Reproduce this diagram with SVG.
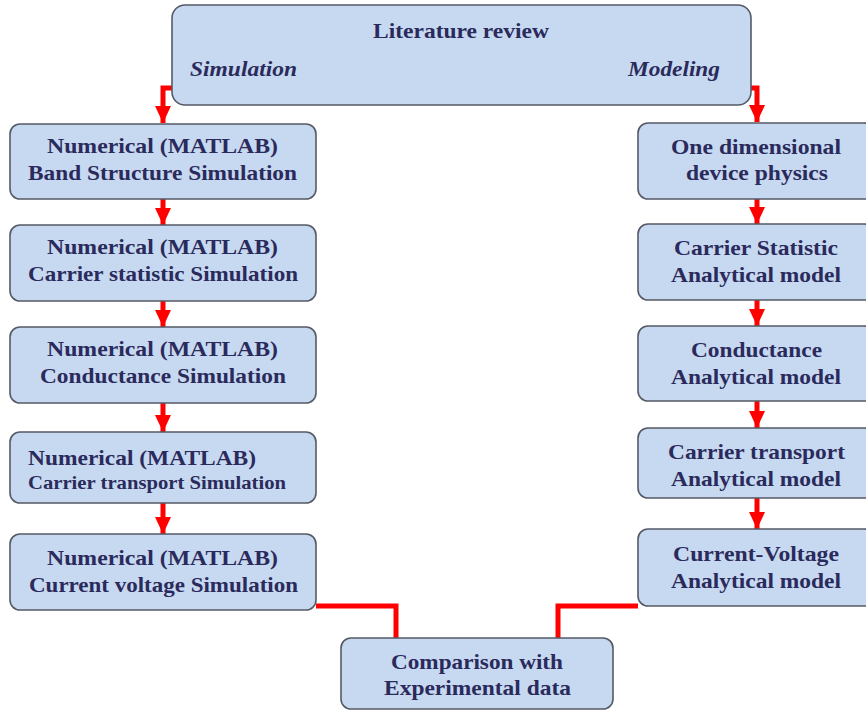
<svg xmlns="http://www.w3.org/2000/svg" width="866" height="711" viewBox="0 0 866 711">
<defs>
<style>
.box{fill:#c6d9f0;stroke:#555a66;stroke-width:1.6}
text{font-family:'Liberation Serif','DejaVu Serif','Times New Roman',serif;font-weight:bold;font-size:21px;fill:#2b2a5c}
.i{font-style:italic}
.c{fill:none;stroke:#ff0000;stroke-width:5}
</style>
<marker id="ah" markerUnits="userSpaceOnUse" markerWidth="18" markerHeight="16" refX="17" refY="8" orient="auto">
<path d="M0,0 L17,8 L0,16 Z" fill="#ff0000"/>
</marker>
</defs>
<rect width="866" height="711" fill="#ffffff"/>
<g id="connectors">
<path class="c" d="M172,88 H163 V123" marker-end="url(#ah)"/>
<path class="c" d="M751,88 H757 V122" marker-end="url(#ah)"/>
<path class="c" d="M163,199 V225" marker-end="url(#ah)"/>
<path class="c" d="M163,301 V327" marker-end="url(#ah)"/>
<path class="c" d="M163,403 V432" marker-end="url(#ah)"/>
<path class="c" d="M163,503 V534" marker-end="url(#ah)"/>
<path class="c" d="M757,199 V224" marker-end="url(#ah)"/>
<path class="c" d="M757,300 V326" marker-end="url(#ah)"/>
<path class="c" d="M757,401 V428" marker-end="url(#ah)"/>
<path class="c" d="M757,498 V529" marker-end="url(#ah)"/>
<path class="c" d="M316,606 H396 V638"/>
<path class="c" d="M638,606 H558 V638"/>
</g>
<g id="literature">
<rect class="box" x="172" y="5" width="579" height="100" rx="13"/>
<text x="373" y="38" textLength="176" lengthAdjust="spacingAndGlyphs">Literature review</text>
<text class="i" x="190" y="76" textLength="107" lengthAdjust="spacingAndGlyphs">Simulation</text>
<text class="i" x="628" y="76" textLength="92" lengthAdjust="spacingAndGlyphs">Modeling</text>
</g>
<g id="sim1">
<rect class="box" x="10" y="124" width="306" height="75" rx="10"/>
<text x="47" y="153" textLength="231" lengthAdjust="spacingAndGlyphs">Numerical (MATLAB)</text>
<text x="28" y="180" textLength="269" lengthAdjust="spacingAndGlyphs">Band Structure Simulation</text>
</g>
<g id="sim2">
<rect class="box" x="10" y="225" width="306" height="76" rx="10"/>
<text x="47" y="254" textLength="231" lengthAdjust="spacingAndGlyphs">Numerical (MATLAB)</text>
<text x="28" y="281" textLength="270" lengthAdjust="spacingAndGlyphs">Carrier statistic Simulation</text>
</g>
<g id="sim3">
<rect class="box" x="10" y="327" width="306" height="76" rx="10"/>
<text x="47" y="356" textLength="231" lengthAdjust="spacingAndGlyphs">Numerical (MATLAB)</text>
<text x="40" y="383" textLength="246" lengthAdjust="spacingAndGlyphs">Conductance Simulation</text>
</g>
<g id="sim4">
<rect class="box" x="10" y="432" width="306" height="71" rx="10"/>
<text x="28" y="465" textLength="228" lengthAdjust="spacingAndGlyphs">Numerical (MATLAB)</text>
<text x="28" y="489" style="font-size:18px" textLength="258" lengthAdjust="spacingAndGlyphs">Carrier transport  Simulation</text>
</g>
<g id="sim5">
<rect class="box" x="10" y="534" width="306" height="76" rx="10"/>
<text x="47" y="565" textLength="231" lengthAdjust="spacingAndGlyphs">Numerical (MATLAB)</text>
<text x="29" y="592" textLength="269" lengthAdjust="spacingAndGlyphs">Current voltage Simulation</text>
</g>
<g id="mod1">
<rect class="box" x="638" y="123" width="236" height="76" rx="10"/>
<text x="671" y="154" textLength="170" lengthAdjust="spacingAndGlyphs">One dimensional</text>
<text x="686" y="180" textLength="142" lengthAdjust="spacingAndGlyphs">device physics</text>
</g>
<g id="mod2">
<rect class="box" x="638" y="224" width="236" height="76" rx="10"/>
<text x="674" y="255" textLength="164" lengthAdjust="spacingAndGlyphs">Carrier Statistic</text>
<text x="671" y="282" textLength="170" lengthAdjust="spacingAndGlyphs">Analytical model</text>
</g>
<g id="mod3">
<rect class="box" x="638" y="326" width="236" height="75" rx="10"/>
<text x="691" y="357" textLength="131" lengthAdjust="spacingAndGlyphs">Conductance</text>
<text x="671" y="384" textLength="170" lengthAdjust="spacingAndGlyphs">Analytical model</text>
</g>
<g id="mod4">
<rect class="box" x="638" y="428" width="236" height="70" rx="10"/>
<text x="668" y="459" textLength="177" lengthAdjust="spacingAndGlyphs">Carrier transport</text>
<text x="671" y="486" textLength="170" lengthAdjust="spacingAndGlyphs">Analytical model</text>
</g>
<g id="mod5">
<rect class="box" x="638" y="529" width="236" height="77" rx="10"/>
<text x="673" y="561" textLength="166" lengthAdjust="spacingAndGlyphs">Current-Voltage</text>
<text x="671" y="588" textLength="170" lengthAdjust="spacingAndGlyphs">Analytical model</text>
</g>
<g id="comparison">
<rect class="box" x="341" y="638" width="272" height="71" rx="10"/>
<text x="391" y="669" textLength="172" lengthAdjust="spacingAndGlyphs">Comparison with</text>
<text x="384" y="695" textLength="187" lengthAdjust="spacingAndGlyphs">Experimental data</text>
</g>
</svg>
